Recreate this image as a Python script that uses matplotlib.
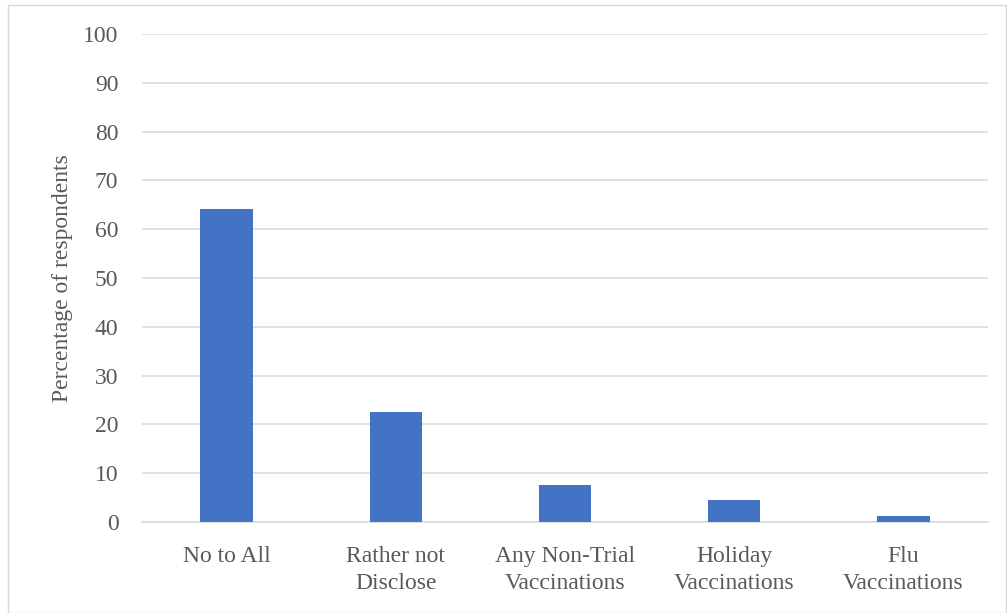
import matplotlib
matplotlib.use("Agg")
import matplotlib.pyplot as plt
from matplotlib.patches import Rectangle

categories = ["No to All", "Rather not\nDisclose", "Any Non-Trial\nVaccinations",
              "Holiday\nVaccinations", "Flu\nVaccinations"]
values = [64.2, 22.5, 7.5, 4.5, 1.3]
yticks = [0, 10, 20, 30, 40, 50, 60, 70, 80, 90, 100]

plt.rcParams['font.family'] = ['Liberation Serif', 'DejaVu Serif']
text_color = "#595959"
grid_color = "#D9D9D9"

fig = plt.figure(figsize=(10.07, 6.13), dpi=100)
fig.patches.append(Rectangle((8/1007, 0), 1 - 8/1007 - 0.001, 1 - 5/613,
                             transform=fig.transFigure, fill=False,
                             edgecolor=grid_color, linewidth=1.0))
ax = fig.add_axes([142/1007, 91/613, 846/1007, (522-34)/613])

x = list(range(len(categories)))
ax.bar(x, values, width=0.31, color="#4472C4", zorder=3)
ax.set_xlim(-0.5, 4.5)
ax.set_ylim(0, 100)
ax.set_yticks(yticks)
ax.set_xticks(x)
ax.set_xticklabels(categories, fontsize=17, color=text_color, linespacing=1.4)
ax.tick_params(axis='y', labelsize=17, labelcolor=text_color, length=0, pad=17)
ax.tick_params(axis='x', length=0, pad=17)
ax.yaxis.grid(True, color=grid_color, linewidth=1.1, zorder=0)
for s in ["top", "right", "left"]:
    ax.spines[s].set_visible(False)
ax.spines["bottom"].set_color(grid_color)
ax.spines["bottom"].set_linewidth(1.1)
ax.set_ylabel("Percentage of respondents", fontsize=17, color=text_color)
ax.yaxis.set_label_coords(-0.082, 0.5)

fig.savefig("out.png", dpi=100)
